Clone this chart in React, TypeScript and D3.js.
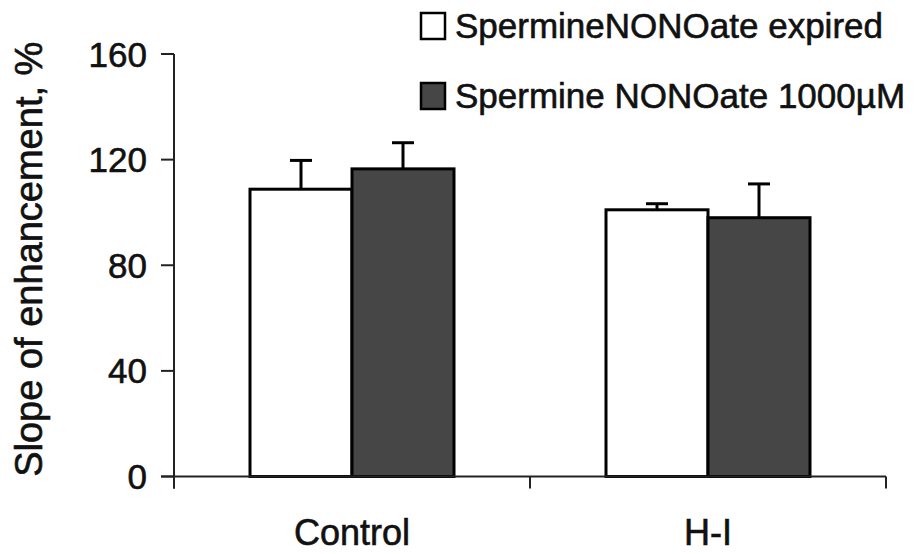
import * as d3 from "d3";

const groups = ["Control", "H-I"];
const seriesNames = ["SpermineNONOate expired", "Spermine NONOate 1000µM"];
const expiredValues = [108.8, 101.0];
const expiredErrors = [10.9, 2.3];
const activeValues = [116.5, 98.0];
const activeErrors = [9.9, 12.8];
const yTicks = [0, 40, 80, 120, 160];

const width = 923;
const height = 554;
const fills = ["#ffffff", "#464646"];
const font = "'Liberation Sans', Arial, Helvetica, sans-serif";

export default function App() {
  const x = d3.scalePoint<string>().domain(groups).range([174, 886]).padding(0.5);
  const sub = d3.scaleBand<number>().domain([0, 1]).range([-102, 102]);
  const y = d3.scaleLinear().domain([0, 160]).range([476.5, 54]);

  const series = [
    { values: expiredValues, errors: expiredErrors, fill: fills[0] },
    { values: activeValues, errors: activeErrors, fill: fills[1] },
  ];

  // slightly heavier text, like the scanned original
  const textStyle = { fill: "#111", stroke: "#111", strokeWidth: 0.6 };

  return (
    <svg
      width={width}
      height={height}
      style={{ position: "absolute", left: 0, top: 0, background: "#fff" }}
      fontFamily={font}
    >
      {/* bars */}
      {series.map((s, si) =>
        groups.map((g, gi) => {
          const x0 = (x(g) as number) + (sub(si) as number);
          const bw = sub.bandwidth();
          const top = y(s.values[gi]);
          const cap = y(s.values[gi] + s.errors[gi]);
          const cx = x0 + bw / 2;
          return (
            <g key={`${si}-${gi}`}>
              <line x1={cx} x2={cx} y1={top} y2={cap} stroke="#000" strokeWidth={3} />
              <line x1={cx - 11} x2={cx + 11} y1={cap} y2={cap} stroke="#000" strokeWidth={3} />
              <rect
                x={x0}
                y={top}
                width={bw}
                height={y(0) - top}
                fill={s.fill}
                stroke="#000"
                strokeWidth={3}
              />
            </g>
          );
        })
      )}

      {/* y axis */}
      <line x1={174} x2={174} y1={y(160)} y2={y(0) + 12} stroke="#222" strokeWidth={2} />
      {yTicks.map((t) => (
        <g key={t}>
          <line x1={161} x2={174} y1={y(t)} y2={y(t)} stroke="#222" strokeWidth={2} />
          <text x={147} y={y(t)} dy="0.36em" textAnchor="end" fontSize={35} {...textStyle}>
            {t}
          </text>
        </g>
      ))}
      <text
        transform={`translate(42,${y(80) - 6}) rotate(-90)`}
        textAnchor="middle"
        fontSize={38}
        {...textStyle}
      >
        Slope of enhancement, %
      </text>

      {/* x axis */}
      <line x1={161} x2={886} y1={y(0)} y2={y(0)} stroke="#222" strokeWidth={2} />
      {[174, 530, 886].map((tx) => (
        <line key={tx} x1={tx} x2={tx} y1={y(0)} y2={y(0) + 12} stroke="#222" strokeWidth={2} />
      ))}
      {groups.map((g) => (
        <text key={g} x={x(g)} y={545} textAnchor="middle" fontSize={36} {...textStyle}>
          {g}
        </text>
      ))}

      {/* legend */}
      {seriesNames.map((name, i) => (
        <g key={name} transform={`translate(421,${13 + i * 70})`}>
          <rect x={0} y={0} width={24} height={26} fill={fills[i]} stroke="#000" strokeWidth={2.5} />
          <text x={34} y={25} fontSize={35} {...textStyle}>
            {name}
          </text>
        </g>
      ))}
    </svg>
  );
}
